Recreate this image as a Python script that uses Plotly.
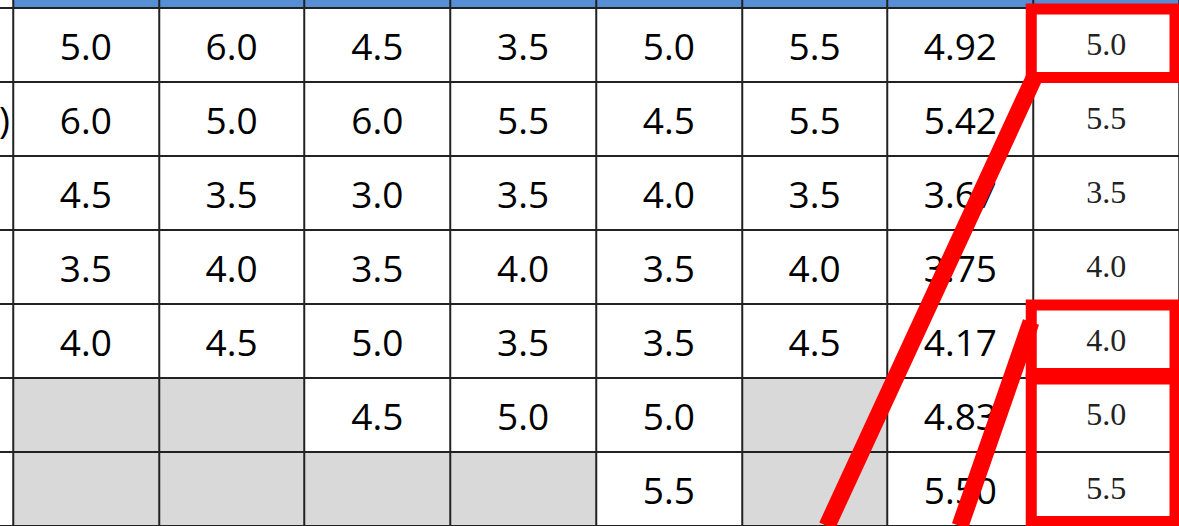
import plotly.graph_objects as go

# ---------------- data ----------------
row_labels = ["", ")", "", "", "", "", ""]          # only the tail of one label is visible
col_a = [5.0, 6.0, 4.5, 3.5, 4.0, None, None]
col_b = [6.0, 5.0, 3.5, 4.0, 4.5, None, None]
col_c = [4.5, 6.0, 3.0, 3.5, 5.0, 4.5, None]
col_d = [3.5, 5.5, 3.5, 4.0, 3.5, 5.0, None]
col_e = [5.0, 4.5, 4.0, 3.5, 3.5, 5.0, 5.5]
col_f = [5.5, 5.5, 3.5, 4.0, 4.5, None, None]
mean_col = [4.92, 5.42, 3.67, 3.75, 4.17, 4.83, 5.50]
final_col = [5.0, 5.5, 3.5, 4.0, 4.0, 5.0, 5.5]
highlight_rows = [(0, 0), (4, 4), (5, 6)]   # rows boxed in red in the last column

# ---------------- geometry (pixels -> data units) ----------------
W_PX, H_PX = 1179, 526
COL_PX = 145.75      # column width in px
ROW_PX = 74.0        # row height in px
LEFT_PX = 13.0       # left edge of first value column
TOP_PX = 8.0         # top edge of first value row

def px_x(p):
    return -0.5 + (p - LEFT_PX) / COL_PX

def px_y(p):
    return -0.5 + (p - TOP_PX) / ROW_PX

value_cols = [col_a, col_b, col_c, col_d, col_e, col_f, mean_col, final_col]
n_rows = len(mean_col)
n_cols = len(value_cols)

# fills: 0 white, 1 grey (missing), 2 header blue
xs = list(range(-1, n_cols))
ys = list(range(-1, n_rows))
z = []
for r in ys:
    line = []
    for c in xs:
        if r == -1:
            line.append(0 if c == -1 else 2)
        elif c == -1:
            line.append(0)
        else:
            line.append(1 if value_cols[c][r] is None else 0)
    z.append(line)

fig = go.Figure()
fig.add_trace(go.Heatmap(
    x=xs, y=ys, z=z, zmin=0, zmax=2,
    colorscale=[[0, "#FFFFFF"], [0.33, "#FFFFFF"], [0.33, "#D9D9D9"],
                [0.66, "#D9D9D9"], [0.66, "#568FD5"], [1, "#568FD5"]],
    xgap=2, ygap=2, showscale=False, hoverinfo="skip"))

# sans text for the first seven value columns
tx, ty, tt = [], [], []
for c in range(n_cols - 1):
    for r in range(n_rows):
        v = value_cols[c][r]
        if v is None:
            continue
        tx.append(c)
        ty.append(r + 0.08)
        tt.append(f"{v:.2f}" if c == n_cols - 2 else f"{v:.1f}")
fig.add_trace(go.Scatter(x=tx, y=ty, text=tt, mode="text",
                         textposition="middle center",
                         textfont=dict(family="Open Sans", size=37, color="#000000"),
                         hoverinfo="skip", showlegend=False))

# serif text for the last column
fig.add_trace(go.Scatter(x=[n_cols - 1] * n_rows, y=[r + 0.03 for r in range(n_rows)],
                         text=[f"{v:.1f}" for v in final_col], mode="text",
                         textposition="middle center",
                         textfont=dict(family="Liberation Serif", size=32, color="#222222"),
                         hoverinfo="skip", showlegend=False))

# row label tails
fig.add_trace(go.Scatter(x=[-0.5 - 3 / COL_PX] * n_rows, y=[r + 0.06 for r in range(n_rows)],
                         text=row_labels, mode="text", textposition="middle left",
                         textfont=dict(family="Open Sans", size=37, color="#000000"),
                         hoverinfo="skip", showlegend=False))

# red highlight boxes
last = n_cols - 1
bx0 = last - 0.5 - 2 / COL_PX
bx1 = last + 0.5 - 4 / COL_PX
for r0, r1 in highlight_rows:
    fig.add_shape(type="rect", xref="x", yref="y",
                  x0=bx0, x1=bx1, y0=r0 - 0.5 + 1 / ROW_PX, y1=r1 + 0.5 - 4.5 / ROW_PX,
                  line=dict(color="#FF0000", width=11), fillcolor="rgba(0,0,0,0)")

# red callout lines leaving the boxes
callouts = [((1034, 78), (827, 526)), ((1031, 322), (960, 526))]
for (sx, sy), (ex, ey) in callouts:
    fig.add_shape(type="line", xref="x", yref="y",
                  x0=px_x(sx), y0=px_y(sy), x1=px_x(ex), y1=px_y(ey),
                  line=dict(color="#FF0000", width=17))

fig.update_layout(
    width=W_PX, height=H_PX,
    margin=dict(l=0, r=0, t=0, b=0, pad=0),
    plot_bgcolor="#222222", paper_bgcolor="#FFFFFF",
    xaxis=dict(range=[px_x(0), px_x(W_PX)], visible=False, showgrid=False,
               zeroline=False, fixedrange=True),
    yaxis=dict(range=[px_y(H_PX), px_y(0)], visible=False, showgrid=False,
               zeroline=False, fixedrange=True),
    showlegend=False,
)
fig.write_html("out.html", config={"displayModeBar": False},
               post_script="document.body.style.margin='0';document.body.style.overflow='hidden';")
